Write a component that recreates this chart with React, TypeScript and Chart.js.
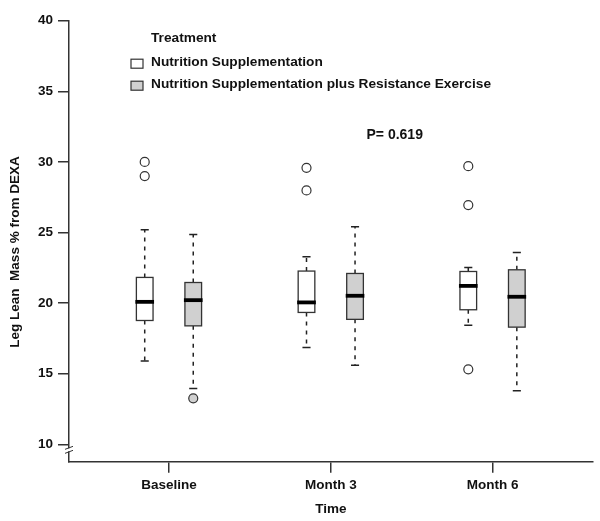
import { useEffect, useRef } from 'react';
import { Chart, registerables } from 'chart.js';

Chart.register(...registerables);

const timePoints = ['Baseline', 'Month 3', 'Month 6'];
const treatments = ['Nutrition Supplementation', 'Nutrition Supplementation plus Resistance Exercise'];
const yTicks = [10, 15, 20, 25, 30, 35, 40];
const legendTitle = 'Treatment';
const pLabel = 'P= 0.619';
const yTitle = 'Leg Lean  Mass % from DEXA';
const xTitle = 'Time';

// Nutrition Supplementation
const nsLow = [15.9, 16.86, 18.44];
const nsQ1 = [18.77, 19.34, 19.53];
const nsMedian = [20.09, 20.05, 21.22];
const nsQ3 = [21.82, 22.27, 22.24];
const nsHigh = [25.2, 23.28, 22.53];
const nsOutliers = [[30.0, 29.0], [29.58, 27.98], [29.7, 26.94, 15.31]];

// Nutrition Supplementation plus Resistance Exercise
const reLow = [13.96, 15.6, 13.79];
const reQ1 = [18.39, 18.85, 18.3];
const reMedian = [20.21, 20.52, 20.45];
const reQ3 = [21.46, 22.1, 22.36];
const reHigh = [24.86, 25.4, 23.59];
const reOutliers = [[13.26], [], []];

const FONT = "'Liberation Sans', Arial, sans-serif";
const fills = ['#ffffff', '#d0d0d0'];
const GROUP_OFFSET = 0.15;
const BOX_W = 0.103;
const CAP_W = 0.05;

const groups = [
  { low: nsLow, q1: nsQ1, med: nsMedian, q3: nsQ3, high: nsHigh, out: nsOutliers },
  { low: reLow, q1: reQ1, med: reMedian, q3: reQ3, high: reHigh, out: reOutliers },
];

const boxPlugin = {
  id: 'boxes',
  beforeDatasetsDraw(chart: any) {
    const { ctx } = chart;
    const xs = chart.scales.x;
    const ys = chart.scales.y;
    groups.forEach((g, gi) => {
      const off = gi === 0 ? -GROUP_OFFSET : GROUP_OFFSET;
      timePoints.forEach((_, i) => {
        const c = i + 1 + off;
        const cx = xs.getPixelForValue(c);
        const l = xs.getPixelForValue(c - BOX_W / 2);
        const r = xs.getPixelForValue(c + BOX_W / 2);
        const cl = xs.getPixelForValue(c - CAP_W / 2);
        const cr = xs.getPixelForValue(c + CAP_W / 2);
        const yLow = ys.getPixelForValue(g.low[i]);
        const yQ1 = ys.getPixelForValue(g.q1[i]);
        const yMed = ys.getPixelForValue(g.med[i]);
        const yQ3 = ys.getPixelForValue(g.q3[i]);
        const yHigh = ys.getPixelForValue(g.high[i]);
        ctx.save();
        ctx.strokeStyle = '#222';
        ctx.lineWidth = 1.5;
        // whiskers
        ctx.setLineDash([4, 5]);
        ctx.beginPath();
        ctx.moveTo(cx, yQ3);
        ctx.lineTo(cx, yHigh);
        ctx.moveTo(cx, yQ1);
        ctx.lineTo(cx, yLow);
        ctx.stroke();
        ctx.setLineDash([]);
        ctx.beginPath();
        ctx.moveTo(cl, yHigh);
        ctx.lineTo(cr, yHigh);
        ctx.moveTo(cl, yLow);
        ctx.lineTo(cr, yLow);
        ctx.stroke();
        // box
        ctx.fillStyle = fills[gi];
        ctx.fillRect(l, yQ3, r - l, yQ1 - yQ3);
        ctx.lineWidth = 1.3;
        ctx.strokeStyle = '#333';
        ctx.strokeRect(l, yQ3, r - l, yQ1 - yQ3);
        // median
        ctx.strokeStyle = '#000';
        ctx.lineWidth = 3.8;
        ctx.beginPath();
        ctx.moveTo(l - 1, yMed);
        ctx.lineTo(r + 1, yMed);
        ctx.stroke();
        ctx.restore();
      });
    });
  },
  afterDraw(chart: any) {
    const { ctx, chartArea } = chart;
    const ys = chart.scales.y;
    ctx.save();
    // axis break marks
    const ax = chartArea.left;
    const yb = ys.getPixelForValue(10) + 5;
    ctx.fillStyle = '#fff';
    ctx.fillRect(ax - 2, yb - 1, 4, 3);
    ctx.strokeStyle = '#333';
    ctx.lineWidth = 1;
    ctx.beginPath();
    ctx.moveTo(ax - 4, yb);
    ctx.lineTo(ax + 4, yb - 3);
    ctx.moveTo(ax - 4, yb + 4);
    ctx.lineTo(ax + 4, yb + 1);
    ctx.stroke();

    ctx.fillStyle = '#111';
    ctx.font = `bold 13.7px ${FONT}`;
    ctx.textAlign = 'left';
    ctx.textBaseline = 'alphabetic';
    // legend
    ctx.fillText(legendTitle, 151, 41.7);
    const rows = [65.7, 87.7];
    treatments.forEach((t, i) => {
      ctx.fillText(t, 151, rows[i]);
      ctx.fillStyle = fills[i];
      ctx.fillRect(131, rows[i] - 6.5, 12, 9);
      ctx.strokeStyle = '#333';
      ctx.lineWidth = 1.2;
      ctx.strokeRect(131, rows[i] - 6.5, 12, 9);
      ctx.fillStyle = '#111';
    });
    // p value
    ctx.font = `bold 14px ${FONT}`;
    ctx.fillText(pLabel, 366.5, 138.7);
    // y title
    ctx.font = `bold 13.5px ${FONT}`;
    ctx.save();
    ctx.translate(15, 252);
    ctx.rotate(-Math.PI / 2);
    ctx.textAlign = 'center';
    ctx.textBaseline = 'middle';
    ctx.fillText(yTitle, 0, 0);
    ctx.restore();
    ctx.restore();
  },
};

export default function App() {
  const ref = useRef<HTMLCanvasElement>(null);
  useEffect(() => {
    if (!ref.current) return;
    const pointDs = groups.map((g, gi) => {
      const off = gi === 0 ? -GROUP_OFFSET : GROUP_OFFSET;
      const data: { x: number; y: number }[] = [];
      g.out.forEach((vals, i) => vals.forEach((v) => data.push({ x: i + 1 + off, y: v })));
      return {
        type: 'scatter' as const,
        label: treatments[gi],
        data,
        pointRadius: 4.5,
        pointBorderWidth: 1.2,
        pointBorderColor: '#333',
        pointBackgroundColor: fills[gi],
        showLine: false,
      };
    });
    const tickFont = { family: FONT, weight: 'bold' as const, size: 13.5 };
    const chart = new Chart(ref.current, {
      type: 'scatter',
      data: { datasets: pointDs as any },
      plugins: [boxPlugin],
      options: {
        animation: false,
        responsive: true,
        maintainAspectRatio: false,
        layout: { padding: { top: 20.7, right: 7.3, left: 0, bottom: 0 } },
        plugins: { legend: { display: false }, tooltip: { enabled: false } },
        scales: {
          x: {
            type: 'linear',
            min: 0.382,
            max: 3.619,
            afterFit: (s: any) => { s.height = 59.3; },
            afterBuildTicks: (s: any) => { s.ticks = [1, 2, 3].map((v) => ({ value: v })); },
            ticks: {
              callback: (v: any) => timePoints[Math.round(v) - 1] ?? '',
              font: tickFont,
              color: '#111',
              padding: 4,
              autoSkip: false,
              maxRotation: 0,
            },
            grid: { display: true, drawOnChartArea: false, drawTicks: true, tickLength: 11, color: '#333', lineWidth: 1.5 },
            border: { display: true, color: '#333', width: 1.5 },
            title: { display: true, text: xTitle, font: tickFont, color: '#111', padding: { top: 4, bottom: 4 } },
          },
          y: {
            type: 'linear',
            min: 8.77,
            max: 40,
            afterFit: (s: any) => { s.width = 69; },
            afterBuildTicks: (s: any) => { s.ticks = yTicks.map((v) => ({ value: v })); },
            ticks: { font: tickFont, color: '#111', padding: 5 },
            grid: { display: true, drawOnChartArea: false, drawTicks: true, tickLength: 11, color: '#333', lineWidth: 1.5 },
            border: { display: true, color: '#333', width: 1.5 },
          },
        },
      },
    });
    return () => chart.destroy();
  }, []);
  return (
    <div style={{ position: 'absolute', left: 0, top: 0, width: 600, height: 521 }}>
      <canvas ref={ref} />
    </div>
  );
}
